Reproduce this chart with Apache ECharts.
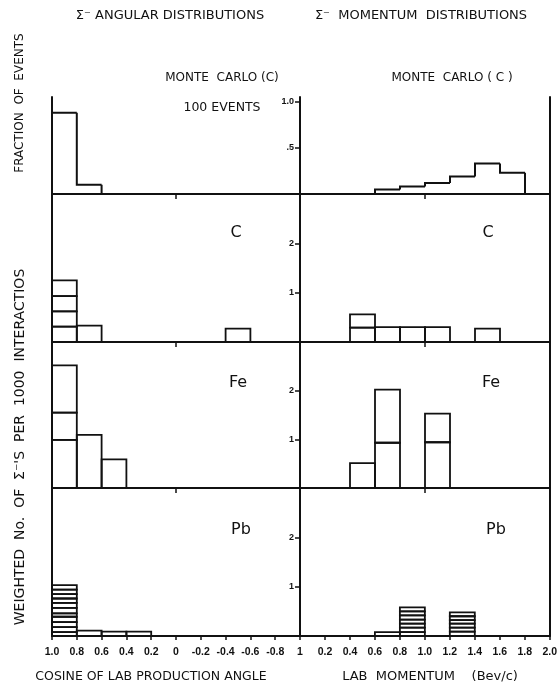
<!DOCTYPE html>
<html>
<head>
<meta charset="utf-8">
<script src="https://cdn.jsdelivr.net/npm/echarts@6/dist/echarts.min.js"></script>
<style>
html,body{margin:0;padding:0;background:#fff;}
#chart{width:560px;height:688px;}
</style>
</head>
<body>
<div id="chart"></div>
<script>
// ---------- data ----------
const angEdges = [1.0, 0.8, 0.6, 0.4, 0.2, 0, -0.2, -0.4, -0.6, -0.8, -1.0];
const momEdges = [0, 0.2, 0.4, 0.6, 0.8, 1.0, 1.2, 1.4, 1.6, 1.8, 2.0];

const angTickVals = [1.0, 0.8, 0.6, 0.4, 0.2, 0, -0.2, -0.4, -0.6, -0.8, -1.0];
const angTickLabels = ['1.0', '0.8', '0.6', '0.4', '0.2', '0', '-0.2', '-0.4', '-0.6', '-0.8', '1'];
const momTickVals = [0, 0.2, 0.4, 0.6, 0.8, 1.0, 1.2, 1.4, 1.6, 1.8, 2.0];
const momTickLabels = ['', '0.2', '0.4', '0.6', '0.8', '1.0', '1.2', '1.4', '1.6', '1.8', '2.0'];

const mcTickVals = [0.5, 1.0];
const mcTickLabels = ['.5', '1.0'];
const wTickVals = [1, 2];
const wTickLabels = ['1', '2'];

// Monte Carlo (C), fraction of events per bin
const mcAng = [0.88, 0.10, 0, 0, 0, 0, 0, 0, 0, 0];
const mcMom = [0, 0, 0, 0.05, 0.08, 0.12, 0.19, 0.33, 0.23, 0];

// weighted events, each bin a stack of individual event weights
const cAng = [[0.31, 0.31, 0.31, 0.32], [0.33], [], [], [], [], [], [0.27], [], []];
const cMom = [[], [], [0.29, 0.27], [0.30], [0.30], [0.30], [], [0.27], [], []];
const feAng = [[0.99, 0.56, 0.97], [1.09], [0.59], [], [], [], [], [], [], []];
const feMom = [[], [], [0.51], [0.93, 1.09], [], [0.94, 0.59], [], [], [], []];
const pbAng = [[0.08, 0.10, 0.10, 0.11, 0.07, 0.11, 0.10, 0.09, 0.09, 0.09, 0.09], [0.11], [0.09], [0.09], [], [], [], [], [], []];
const pbMom = [[], [], [], [0.08], [0.08, 0.09, 0.08, 0.08, 0.09, 0.08, 0.08], [], [0.09, 0.08, 0.08, 0.07, 0.08, 0.08], [], [], []];

// ---------- helpers ----------
function boxItems(edges, bins) {
  const out = [];
  bins.forEach((segs, i) => {
    let y = 0;
    segs.forEach(s => { out.push([edges[i], edges[i + 1], y, y + s]); y += s; });
  });
  return out;
}
function stepItems(edges, vals) {
  const out = [];
  vals.forEach((v, i) => {
    const prev = i > 0 ? vals[i - 1] : 0;
    if (v > 0 || prev > 0) out.push([edges[i], edges[i + 1], v, prev]);
  });
  return out;
}
function lookup(vals, labels, v) {
  for (let i = 0; i < vals.length; i++) if (Math.abs(vals[i] - v) < 1e-6) return labels[i];
  return '';
}
const INK = '#111111';
const FONT = 'DejaVu Sans';

function renderBox(params, api) {
  const a = api.coord([api.value(0), api.value(2)]);
  const b = api.coord([api.value(1), api.value(3)]);
  return {
    type: 'rect',
    shape: { x: Math.min(a[0], b[0]), y: Math.min(a[1], b[1]), width: Math.abs(b[0] - a[0]), height: Math.abs(b[1] - a[1]) },
    style: { fill: 'none', stroke: INK, lineWidth: 1.8 }
  };
}
function renderStep(params, api) {
  const p0 = api.coord([api.value(0), api.value(3)]);
  const p1 = api.coord([api.value(0), api.value(2)]);
  const p2 = api.coord([api.value(1), api.value(2)]);
  return { type: 'polyline', shape: { points: [p0, p1, p2] }, style: { fill: 'none', stroke: INK, lineWidth: 2 } };
}

// ---------- layout ----------
const rowTop = [97, 194, 342, 488];
const rowH = [97, 148, 146, 148];
const rowMax = [1.05, 3, 3, 3];

const grid = [], xAxis = [], yAxis = [], series = [];
const panelData = [
  [stepItems(angEdges, mcAng), stepItems(momEdges, mcMom)],
  [boxItems(angEdges, cAng), boxItems(momEdges, cMom)],
  [boxItems(angEdges, feAng), boxItems(momEdges, feMom)],
  [boxItems(angEdges, pbAng), boxItems(momEdges, pbMom)]
];

for (let r = 0; r < 4; r++) {
  const bottom = r === 3;
  for (let c = 0; c < 2; c++) {
    const gi = grid.length;
    grid.push({ left: c === 0 ? 52 : 300, width: c === 0 ? 248 : 250, top: rowTop[r], height: rowH[r] });
    const isAng = c === 0;
    xAxis.push({
      type: 'value', gridIndex: gi,
      min: isAng ? -1 : 0, max: isAng ? 1 : 2, interval: 0.2, inverse: isAng,
      splitLine: { show: false },
      axisLine: { show: true, onZero: false, lineStyle: { color: INK, width: 2 } },
      axisTick: bottom
        ? { show: true, length: 4, lineStyle: { color: INK, width: 1.5 } }
        : { show: true, length: 5, customValues: [isAng ? 0 : 1], lineStyle: { color: INK, width: 1.5 } },
      axisLabel: bottom ? {
        show: true, interval: 0, hideOverlap: false, showMinLabel: true, showMaxLabel: true,
        margin: 11, fontSize: 10.5, fontFamily: 'Liberation Sans', color: INK, fontWeight: 'bold',
        formatter: v => isAng ? lookup(angTickVals, angTickLabels, v) : lookup(momTickVals, momTickLabels, v)
      } : { show: false }
    });
    const tv = r === 0 ? mcTickVals : wTickVals;
    const tl = r === 0 ? mcTickLabels : wTickLabels;
    const yi = yAxis.length;
    yAxis.push({
      type: 'value', gridIndex: gi, min: 0, max: rowMax[r], position: 'left',
      splitLine: { show: false },
      axisLine: { show: true, onZero: false, lineStyle: { color: INK, width: 2 } },
      axisTick: c === 1 ? { show: true, length: 5, customValues: tv, lineStyle: { color: INK, width: 1.5 } } : { show: false },
      axisLabel: c === 1 ? {
        show: true, customValues: tv, margin: 6, fontSize: 9, fontWeight: 'bold', fontFamily: 'Liberation Sans', color: INK,
        formatter: v => lookup(tv, tl, v)
      } : { show: false }
    });
    if (c === 1) {
      yAxis.push({
        type: 'value', gridIndex: gi, min: 0, max: rowMax[r], position: 'right',
        splitLine: { show: false },
        axisLine: { show: true, onZero: false, lineStyle: { color: INK, width: 2 } },
        axisTick: { show: false }, axisLabel: { show: false }
      });
    }
    series.push({
      type: 'custom', xAxisIndex: gi, yAxisIndex: yi, clip: false,
      renderItem: r === 0 ? renderStep : renderBox,
      encode: { x: [0, 1], y: [2, 3] },
      data: panelData[r][c],
      silent: true
    });
  }
}

const txt = (x, y, text, size, extra) => Object.assign({
  type: 'text', x: x, y: y, silent: true,
  style: { text: text, fontSize: size, fontFamily: FONT, fill: INK, align: 'center', verticalAlign: 'middle' }
}, extra || {});

const graphic = [
  txt(170, 16, 'Σ\u207B ANGULAR DISTRIBUTIONS', 13),
  txt(421, 16, 'Σ\u207B  MOMENTUM  DISTRIBUTIONS', 13),
  txt(222, 78, 'MONTE  CARLO (C)', 12),
  txt(452, 78, 'MONTE  CARLO ( C )', 12),
  txt(222, 108, '100 EVENTS', 12.5),
  txt(236, 233, 'C', 16),
  txt(488, 233, 'C', 16),
  txt(238, 383, 'Fe', 16),
  txt(491, 383, 'Fe', 16),
  txt(241, 530, 'Pb', 16),
  txt(496, 530, 'Pb', 16),
  txt(151, 677, 'COSINE OF LAB PRODUCTION ANGLE', 12.5),
  txt(430, 677, 'LAB  MOMENTUM    (Bev/c)', 13),
  txt(20, 103, 'FRACTION  OF  EVENTS', 12, { rotation: Math.PI / 2 }),
  txt(20, 447, 'WEIGHTED  No.  OF  Σ\u207B\'S  PER  1000  INTERACTIOS', 14, { rotation: Math.PI / 2 })
];

const chart = echarts.init(document.getElementById('chart'), null, { renderer: 'canvas' });
chart.setOption({
  backgroundColor: '#ffffff',
  animation: false,
  grid: grid, xAxis: xAxis, yAxis: yAxis, series: series, graphic: graphic
});
</script>
</body>
</html>
